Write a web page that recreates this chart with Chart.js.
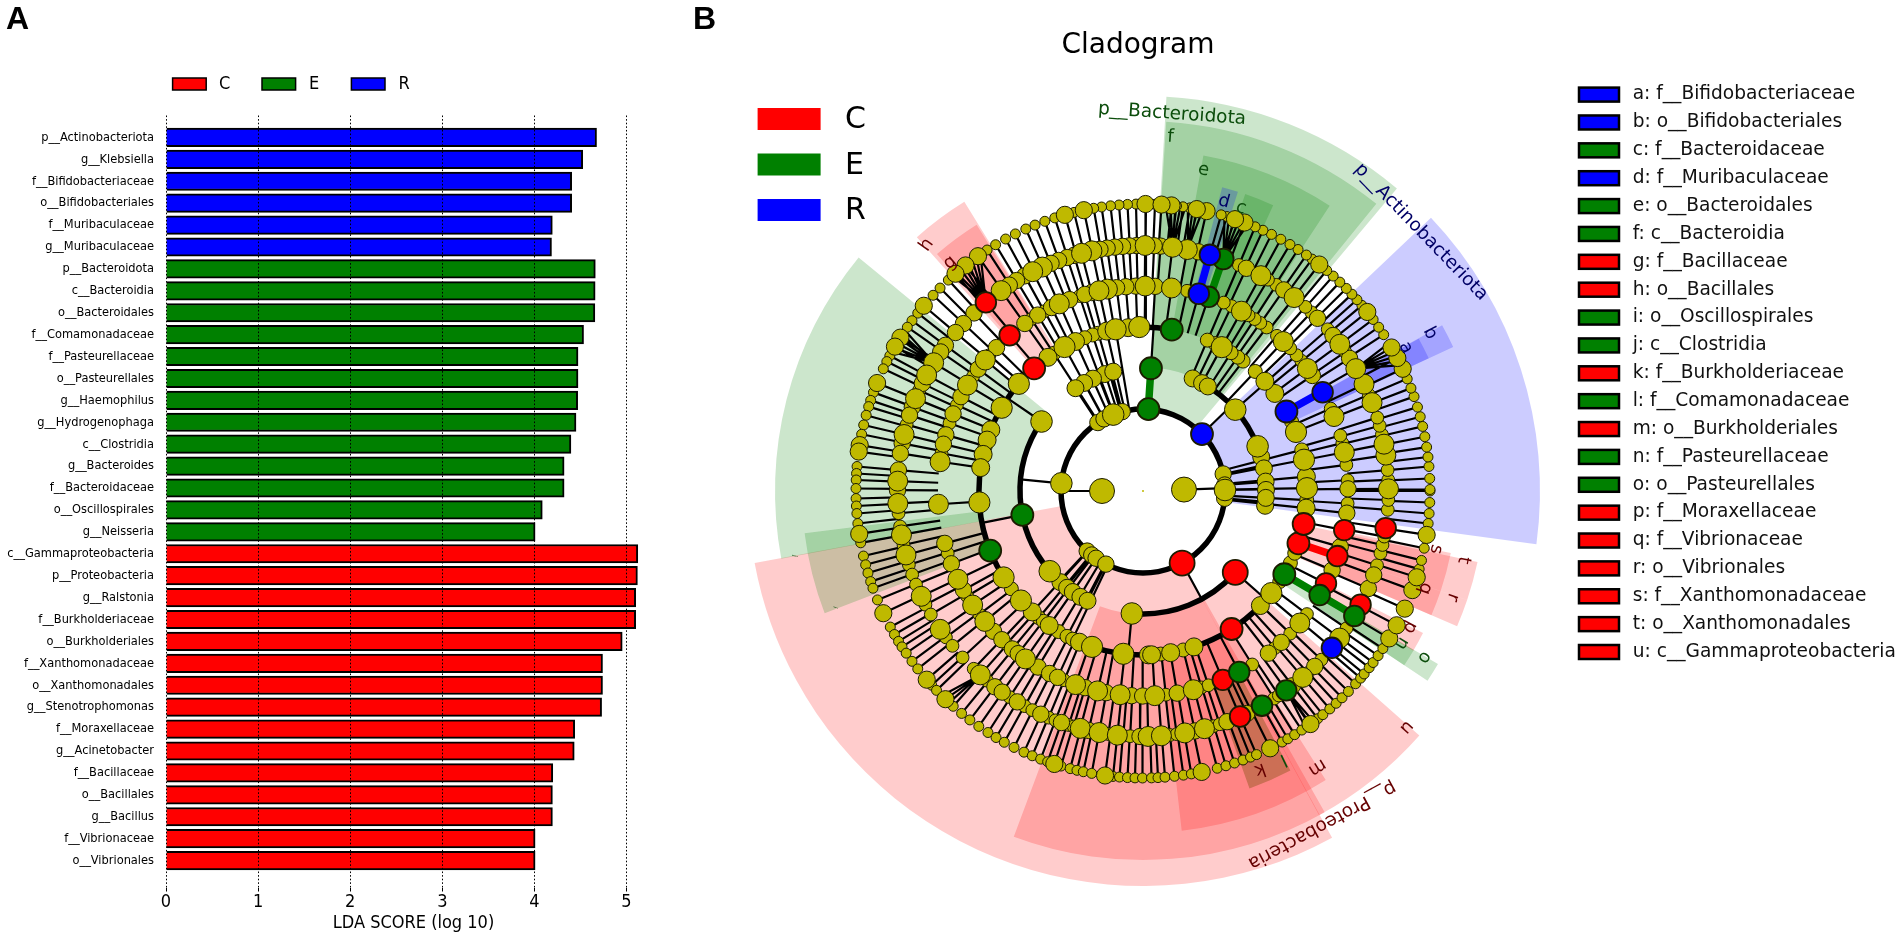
<!DOCTYPE html>
<html><head><meta charset="utf-8"><title>LDA and Cladogram</title>
<script src="https://cdn.jsdelivr.net/npm/chart.js@4"></script>
<style>html,body{margin:0;background:#fff;overflow:hidden}canvas{position:absolute;top:0}#a{left:0}#b{left:680px}</style>
</head><body>
<canvas id="a" width="680" height="937"></canvas>
<canvas id="b" width="1222" height="937"></canvas>
<script>
// ---------- Panel A data
const labelsR=["p__Actinobacteriota","g__Klebsiella","f__Bifidobacteriaceae","o__Bifidobacteriales","f__Muribaculaceae","g__Muribaculaceae"];
const valuesR=[4.675,4.525,4.405,4.405,4.195,4.186];
const labelsE=["p__Bacteroidota","c__Bacteroidia","o__Bacteroidales","f__Comamonadaceae","f__Pasteurellaceae","o__Pasteurellales","g__Haemophilus","g__Hydrogenophaga","c__Clostridia","g__Bacteroides","f__Bacteroidaceae","o__Oscillospirales","g__Neisseria"];
const valuesE=[4.662,4.66,4.657,4.534,4.474,4.474,4.47,4.452,4.397,4.323,4.323,4.086,4.008];
const labelsC=["c__Gammaproteobacteria","p__Proteobacteria","g__Ralstonia","f__Burkholderiaceae","o__Burkholderiales","f__Xanthomonadaceae","o__Xanthomonadales","g__Stenotrophomonas","f__Moraxellaceae","g__Acinetobacter","f__Bacillaceae","o__Bacillales","g__Bacillus","f__Vibrionaceae","o__Vibrionales"];
const valuesC=[5.123,5.119,5.10,5.10,4.954,4.74,4.74,4.73,4.438,4.433,4.2,4.196,4.196,4.008,4.008];
const xTickValues=[0,1,2,3,4,5];
const groupNames=["C","E","R"];
const RED="#ff0000",GREEN="#008000",BLUE="#0000ff",YEL="#bfb900";
const groupColours=[RED,GREEN,BLUE];

// ---------- Panel B data: angle in degrees anticlockwise from east, radius in image units
const ringRadius=[41,82,123,164,205,245.5,287];
const ring0Big=[180,2];
const ring1Big=[174.6,111.3,0.7];
const ring1Mid=[123.4,118.4,104.7,227.1,231.3,235.1,243.1,12,4.2,354.9];
const ring2Big=[145.6,220.7,264.8,41.4,21.3];
const ring2Mid=[108.1,114,118.6,123.3,104,227.8,231.9,235.2,239.4,243.2,16.1,10.6,4.4,0.5,353.1,356.8,66.2,61.3,58.2];
const ring3Big=[91.3,99.6,118.6,139.2,149.5,184,211.8,221.9,251.9,263.1,1,11,21.1,61.3,321.5];
const ring3Mid=[95.2,102.8,114.3,125.4,158.1,161.9,167.1,171.8,227.5,235.1,247.2,271.9,273,279.7,288.1,315.7,354,36.5,42,5];
const ring3Small=[105.8,107.9,110.8,122.9,164.3,216.6,230.6,232.6,239,242.4,244.6,276.2,284.2,326.5,334,337.7,356.8,14.5,25,46.8,52.4,54.7,57.5,64,66.9];
const ring4Big=[89.4,100,102.4,114.1,140.3,148.9,171.8,183.7,205.5,213.8,219.5,235,250.8,257.2,263.6,273.3,319.9,10.9,21.3,36.7,46.8,61.3,82,284.2];
const ring4Mid=[92,94.8,97.4,104.5,106.5,111,116.5,120.9,125.2,135.6,143.5,152.6,157.9,164.1,166.8,194.8,200.8,208.9,223.2,226.5,230.4,232.5,239.2,242.9,245.4,253.6,259.6,266.8,269.9,279.6,307.7,312.4,337.3,344.2,353.8,0.6,34.3,86.6];
const ring4Small=[108,118.7,123,138.5,146,155.2,160.7,169.4,197.7,210.9,217,228.3,237.4,247.4,276.4,286.6,288.6,302.2,310,315.9,323.1,356.5,3,7.3,13.5,15.7,23.7,39.5,41.5,44.1,49.2,52.9,55.1,57,59,64.4,66.8,77.6,89.2];
const ring5Big=[89.5,102,104.5,114.2,116.7,125.3,148.5,151.8,157.9,166.7,177.7,182.9,190.3,195.1,205.4,214.3,228.5,255.2,259.7,264,271.2,274.3,279.8,284.5,310.6,323.2,0.5,8.4,11,21.1,25.8,29.9,36.7,52,61.3,79.6,83.1];
const ring5Mid=[91.5,93.2,94.8,96.6,98.4,100.1,106.3,108,110.1,112,118.8,121,123,133.5,137,139.8,143.6,145.5,154,160,162,168.8,171.2,175.1,179.8,239.2,232.9,235,245.4,250.6,257.2,269.3,282.2,290,295,307.5,314.4,32.7,39.3,44.7,55,65.1,77,85.9,87.4,89.3,336.6,340];
const ring5Small=[155.8,164.3,185.2,188.3,192.7,197.5,199.9,202.4,207.6,210.2,216.6,219.1,222.7,226.4,230.6,237.1,241.2,243.2,247.4,249.1,252.4,253.6,261.9,265.4,267,276.3,277.9,286.7,288.2,296.2,302.3,303.6,312.2,316.6,326,342.4,345.3,347.3,349.3,355.6,357.9,360,2.6,4.9,13.3,15.4,17.4,23.1,34.5,41.2,46.7,48.6,57.1,59.4,67];
const ring6Big=[89.5,101.9,105.8,125.1,128.2,130.8,139.8,147.7,149.8,157.9,170.8,172.1,188.6,205.2,221.1,226.5,252,262.4,281.8,296.3,305.7,329.1,332.1,335.8,339.8,342.5,351.2,25.2,27.6,30,38.6,52.1,69.3,71.3,77.2,79.2,84.3,86.3];
const ring6Small=[91.4,93.1,94.8,96.5,98.3,99.9,103.9,107.9,110,112.1,114.1,116.4,118.6,120.9,122.9,132.7,135,137,141.7,143.6,145.2,151.9,153.2,154.8,159.9,161.6,162.9,164.7,166.7,168.6,175.1,176.5,177.8,179.5,181.5,183,184.5,186.5,190.4,193.1,194.9,196.6,198.4,199.8,202.3,208.3,210,211.6,212.9,214.4,216.4,218.3,222.6,224,228.6,230.8,232.9,235.1,237.3,239.2,241.1,243.3,245.5,247.3,249.1,250.6,253.4,255.3,256.7,258,259.7,264,265.3,266.9,268.4,269.9,271.7,273,274.4,276.3,278.1,279.7,285,286.8,288.6,290.4,292,293.3,299,300.3,301.9,303.6,307.5,308.8,310.6,312.3,313.9,315.7,317.8,319.3,320.4,322,323.3,325,326.7,344.2,346,348.5,353.5,355.5,357.7,360,0.3,2.5,4.9,6.8,8.8,10.9,13,15,17,19.2,21,23,33,34.8,36.7,40.3,41.8,43.3,44.9,46.7,48.5,50.2,53.9,55.3,57.3,59.2,61.3,63.4,65.3,67,73,74.2,80.6,82,83.3,87.6,89.4];
// coloured nodes as [ring index, angle]
const nodesRed=[[1,298.5],[2,318.6],[3,131.6],[3,302.7],[3,341.4],[3,348.4],[4,130.6],[4,292.9],[4,333.2],[4,341.5],[4,349],[5,129.8],[5,293.3],[5,332.4],[5,351.3]];
const nodesGreen=[[1,86.2],[2,191.2],[2,86.3],[3,79.9],[3,201.3],[3,329.5],[4,298],[4,329.5],[4,71.3],[5,70.9],[5,299],[5,305.7],[5,329.4]];
const nodesBlue=[[1,44],[3,29],[4,28.8],[4,74.2],[5,74.2],[5,320.3]];
// thin spokes that run across more than one ring: [inner ring, outer ring, angles]
const inner01=[180,2];
const inner12=[174.6,44,12,0.7,298.5,104.7,111.3,118.4,123.4,227.1,231.3,235.1,243.1,4.2,354.9];
const inner13=[99.6,102.8,105.8,107.9,110.8,114.3,118.6,122.9,227.5,230.6,232.6,235.1,239,242.4,244.6,1,5,11,14.5,354,356.8];
const inner23=[145.6,191.2,264.8,318.6,41.4,86.3,46.8,52.4,54.7,57.5,61.3,64,66.9];
// fans: [parent ring, parent angle, child angles on the outer ring]
const fans=[[5,129.8,[124.5,125.5,126.5,127.5,128.5,129.5,130.5,131.5]],[5,148.5,[146,147,148,149,150,151]],[5,83.1,[81.5,82.5,83.5,84.5,85.5]],[5,79.6,[78,79,80,81]],[5,70.9,[68.5,69.5,70.5,71.5,72.5,73.5]],[5,29.9,[26,27,28,29,30,31]],[5,228.5,[225.5,226.5,227.5]],[5,305.7,[304.5,305.5,306.5]]];
// thick arcs: [ring, from angle, to angle]
const arcs=[[1,0,360],[2,145.6,220.7],[2,264.8,318.6],[2,21.3,61.3],[2,353,381],[3,139,211.8],[3,251.9,271.9],[3,288,315.7],[3,79.9,91.3]];
// thick coloured edges: [colour, inner ring, outer ring, angle]
const thickEdges=[[GREEN,1,2,86.3],[GREEN,3,5,329.5],[RED,3,4,341.4],[BLUE,3,4,29],[BLUE,4,5,74.2],[GREEN,4,5,71]];
// clade wedges: [colour, from angle, to angle, inner radius, outer radius]
const wedges=[[GREEN,50,86.6,84,395],[BLUE,-7.7,43.5,84,397],[RED,190.5,298.6,84,395],[GREEN,140.6,190.6,124,368],[GREEN,50.9,86.4,124,370],[GREEN,56.8,79.8,164,341],[GREEN,65.5,71,205,314],[BLUE,72.4,75.4,205,314],[BLUE,24.9,28.9,205,315],[BLUE,24.9,29,164,342],[RED,121.7,131.7,164,340],[RED,122,131,205,314],[GREEN,187.1,201,164,341],[RED,249.5,299.5,123,369],[RED,276.5,302.3,164,342],[RED,289.7,297.8,205,316],[GREEN,289.7,297.8,205,316],[RED,298.5,318.5,123,369],[GREEN,326.3,329.6,205,314],[GREEN,326.3,329.6,164,342],[RED,329.4,333.1,205,314],[RED,336.7,341.4,205,314],[RED,336.7,341.4,164,342],[RED,341.4,348.6,205,314],[RED,341.4,348,164,342]];
// clade labels: [text, dark colour, centre x, centre y (image), rotation in degrees, size]
const DR="#660000",DG="#0b4d0b",DB="#000066";
const cladeLabels=[["p__Bacteroidota",DG,1172,114,4,18.5],["p__Actinobacteriota",DB,1421,232,46,18.5],["p__Proteobacteria",DR,1322,825,151.6,18.5],
["f",DG,1170.5,137,4,18],["e",DG,1203.5,170,10,18],["d",DB,1224,201.7,15,18],["c",DG,1241,208,20,18],["a",DB,1405.7,347.7,63,18],["b",DB,1430,333.3,63,18],
["h",DR,926.7,245,-55,18],["g",DR,950,262.7,-40,18],["j",DG,795,556,98,6],["i",DG,835,607.3,109,6],
["u",DR,1406.7,727.3,132,18],["m",DR,1317.3,767.3,148,18],["l",DG,1283.3,759.3,155,18],["k",DR,1260,769.3,160,18],
["s",DR,1436,549.3,101,18],["t",DR,1463.3,560,101,18],["q",DR,1425,588.3,109,18],["r",DR,1452.7,597.3,109,18],["p",DR,1410,627.3,118,18],["n",DG,1401.7,643.3,122,18],["o",DG,1424.3,657.3,122,18]];
const keyLabels=["a: f__Bifidobacteriaceae","b: o__Bifidobacteriales","c: f__Bacteroidaceae","d: f__Muribaculaceae","e: o__Bacteroidales","f: c__Bacteroidia","g: f__Bacillaceae","h: o__Bacillales","i: o__Oscillospirales","j: c__Clostridia","k: f__Burkholderiaceae","l: f__Comamonadaceae","m: o__Burkholderiales","n: f__Pasteurellaceae","o: o__Pasteurellales","p: f__Moraxellaceae","q: f__Vibrionaceae","r: o__Vibrionales","s: f__Xanthomonadaceae","t: o__Xanthomonadales","u: c__Gammaproteobacteria"];
const keyColours=[BLUE,BLUE,GREEN,BLUE,GREEN,GREEN,RED,RED,GREEN,GREEN,RED,GREEN,RED,GREEN,GREEN,RED,RED,RED,RED,RED,RED];

// ---------- Panel A
const COND='"DejaVu Sans Condensed","DejaVu Sans"';
const allLabels=[...labelsR,...labelsE,...labelsC];
const series=(vals,off)=>vals.map((v,i)=>({x:v,y:i+off}));
const barDs=(name,colour,vals,off)=>({label:name,data:series(vals,off),backgroundColor:colour,borderColor:"#000",borderWidth:2,barThickness:18.5,grouped:false});
new Chart(document.getElementById("a"),{
 type:"bar",
 data:{datasets:[barDs("R",BLUE,valuesR,0),barDs("E",GREEN,valuesE,labelsR.length),barDs("C",RED,valuesC,labelsR.length+labelsE.length)]},
 options:{indexAxis:"y",responsive:false,animation:false,devicePixelRatio:1,
  layout:{padding:{top:115.5,right:19,left:0,bottom:0},autoPadding:false},
  plugins:{legend:{display:false},tooltip:{enabled:false}},
  scales:{
   x:{type:"linear",min:0,max:5.375,position:"bottom",afterFit:s=>{s.height=49.5},
      afterBuildTicks:s=>{s.ticks=xTickValues.map(v=>({value:v}))},
      grid:{color:"#000",lineWidth:1,z:1,tickLength:4},border:{display:false,dash:[1.6,2]},
      ticks:{color:"#000",font:{family:COND,size:18},padding:0,maxRotation:0},
      title:{display:true,text:"LDA SCORE (log 10)",color:"#000",font:{family:COND,size:18},padding:{top:0,bottom:3}}},
   y:{type:"linear",reverse:true,offset:false,min:-1,max:34.23,position:"left",afterFit:s=>{s.width=166},
      afterBuildTicks:s=>{s.ticks=allLabels.map((_,i)=>({value:i}))},
      grid:{display:false,drawTicks:false,offset:false},border:{display:false},
      ticks:{color:"#000",autoSkip:false,padding:12,font:{family:COND,size:12.7},callback:v=>allLabels[v]||""}}
  }},
 plugins:[{id:"panelA",afterDraw(c){const g=c.ctx;g.save();
   g.fillStyle="#000";g.font='bold 32px "Liberation Sans"';g.textBaseline="middle";g.textAlign="left";g.fillText("A",6,20);
   const bx=[172.6,262,351.4],tx=[219,309,398.6];
   groupNames.forEach((n,i)=>{g.fillStyle=groupColours[i];g.fillRect(bx[i],78,33.6,12);g.strokeStyle="#000";g.lineWidth=1.5;g.strokeRect(bx[i],78,33.6,12);
     g.fillStyle="#000";g.font='18px '+COND;g.fillText(n,tx[i],84);});
   g.restore();}}]
});

// ---------- Panel B
const P=(r,a)=>({x:r*Math.cos(a*Math.PI/180),y:r*Math.sin(a*Math.PI/180)});
const R=ringRadius;
const gap={x:NaN,y:NaN};
const seg=[];const add=(r0,a0,r1,a1)=>seg.push(P(r0,a0),P(r1,a1),gap);
inner01.forEach(a=>add(R[0],a,R[1],a));
inner12.forEach(a=>add(R[1],a,R[2],a));
inner13.forEach(a=>add(R[1],a,R[3],a));
inner23.forEach(a=>add(R[2],a,R[3],a));
const ang=n=>n[1];
const r4all=[...ring4Big,...ring4Mid,...ring4Small,...nodesRed.filter(n=>n[0]==4).map(ang),...nodesGreen.filter(n=>n[0]==4).map(ang),...nodesBlue.filter(n=>n[0]==4).map(ang)];
const r5all=[...ring5Big,...ring5Mid,...ring5Small,...nodesRed.filter(n=>n[0]==5).map(ang),...nodesGreen.filter(n=>n[0]==5).map(ang),...nodesBlue.filter(n=>n[0]==5).map(ang)];
const r6all=[...ring6Big,...ring6Small];
r4all.forEach(a=>add(R[3],a,R[4],a));
r5all.forEach(a=>add(R[4],a,R[5],a));
const fanKids=fans.flatMap(f=>f[2]);
r6all.filter(a=>!fanKids.includes(a)).forEach(a=>add(R[5],a,R[6],a));
fans.forEach(f=>f[2].forEach(k=>add(R[f[0]],f[1],R[6],k)));
const pts=(list,ring,rad)=>list.map(a=>({...P(R[ring],a),r:rad}));
const nodeDs=(data,fill,bw)=>({type:"scatter",data,showLine:false,backgroundColor:fill,borderColor:"#000",borderWidth:bw,pointBackgroundColor:fill,pointBorderColor:"#1c1c00",pointBorderWidth:bw,pointRadius:data.map(d=>d.r)});
const yellow=[...pts(ring6Small,6,5),...pts(ring6Big,6,8.6),...pts(ring5Small,5,6.4),...pts(ring5Mid,5,8.2),...pts(ring5Big,5,10),
 ...pts(ring4Small,4,6.4),...pts(ring4Mid,4,8.2),...pts(ring4Big,4,10),...pts(ring3Small,3,7),...pts(ring3Mid,3,9),...pts(ring3Big,3,10.6),
 ...pts(ring2Mid,2,8.5),...pts(ring2Big,2,10.8),...pts(ring1Mid,1,8.2),...pts(ring1Big,1,10.8),...pts(ring0Big,0,12.5)];
const colRad=n=>(n[0]<=2&&n[1]>90&&n[1]<330&&n[1]!=191.2?12.5:n[0]<=3?11:10.3);
const col=l=>l.map(n=>({...P(R[n[0]],n[1]),r:n[1]==298.5||n[1]==318.6?12.5:colRad(n)}));
const lineDs=(data,colour,w)=>({type:"scatter",data,showLine:true,spanGaps:false,borderColor:colour,borderWidth:w,pointRadius:0,fill:false,borderCapStyle:"butt"});
const thick=c=>thickEdges.filter(e=>e[0]==c).flatMap(e=>[P(R[e[1]],e[3]),P(R[e[2]],e[3]),gap]);
const dsB=[nodeDs(col(nodesBlue),BLUE,1.8),nodeDs(col(nodesGreen),GREEN,1.8),nodeDs(col(nodesRed),RED,1.8),nodeDs(yellow,YEL,1),
 nodeDs([{x:0,y:0,r:1}],YEL,0),
 lineDs(thick(BLUE),BLUE,7.5),lineDs(thick(GREEN),GREEN,7.5),lineDs(thick(RED),RED,7.5),lineDs(seg,"#000",2.2)];
new Chart(document.getElementById("b"),{
 type:"scatter",data:{datasets:dsB},
 options:{responsive:false,animation:false,devicePixelRatio:1,
  layout:{padding:0,autoPadding:false},plugins:{legend:{display:false},tooltip:{enabled:false}},
  scales:{x:{type:"linear",display:false,min:-463,max:759},y:{type:"linear",display:false,min:-446,max:491}}},
 plugins:[{id:"cladeBack",beforeDatasetsDraw(c){const g=c.ctx,X=c.scales.x,Y=c.scales.y,cx=X.getPixelForValue(0),cy=Y.getPixelForValue(0),k=X.getPixelForValue(1)-cx;
   g.save();
   wedges.forEach(w=>{g.beginPath();g.arc(cx,cy,w[4]*k,-w[2]*Math.PI/180,-w[1]*Math.PI/180);g.arc(cx,cy,w[3]*k,-w[1]*Math.PI/180,-w[2]*Math.PI/180,true);g.closePath();g.globalAlpha=.2;g.fillStyle=w[0];g.fill();});
   g.globalAlpha=1;g.strokeStyle="#000";g.lineWidth=5.5;g.lineCap="butt";
   arcs.forEach(a=>{g.beginPath();g.arc(cx,cy,R[a[0]]*k,-a[2]*Math.PI/180,-a[1]*Math.PI/180);g.stroke();});
   g.restore();},
  afterDraw(c){const g=c.ctx,X=c.scales.x,Y=c.scales.y;g.save();
   const px=v=>X.getPixelForValue(v-1143),py=v=>Y.getPixelForValue(491-v);
   g.textBaseline="middle";g.textAlign="center";
   cladeLabels.forEach(l=>{g.save();g.translate(px(l[2]),py(l[3]));g.rotate(l[4]*Math.PI/180);g.fillStyle=l[1];g.font=l[5]+'px "DejaVu Sans"';g.fillText(l[0],0,0);g.restore();});
   g.fillStyle="#000";g.textAlign="left";
   g.font='bold 32px "Liberation Sans"';g.fillText("B",px(693),py(20));
   g.textAlign="center";g.font='28px "DejaVu Sans"';g.fillText("Cladogram",px(1138),py(46));
   g.textAlign="left";
   groupNames.forEach((n,i)=>{const y=[119,164.5,210][i];g.fillStyle=groupColours[i];g.fillRect(px(757.6),py(y-11),63,22);g.fillStyle="#000";g.font='30px "DejaVu Sans"';g.fillText(n,px(845),py(y+1.5));});
   keyLabels.forEach((t,i)=>{const y=94.6+i*27.87;g.fillStyle=keyColours[i];g.fillRect(px(1579),py(y-7),40,14);g.strokeStyle="#000";g.lineWidth=2.5;g.strokeRect(px(1579),py(y-7),40,14);
     g.fillStyle="#111";g.font='18.6px "DejaVu Sans"';g.fillText(t,px(1632.7),py(y));});
   g.restore();}}]
});
</script>
</body></html>
